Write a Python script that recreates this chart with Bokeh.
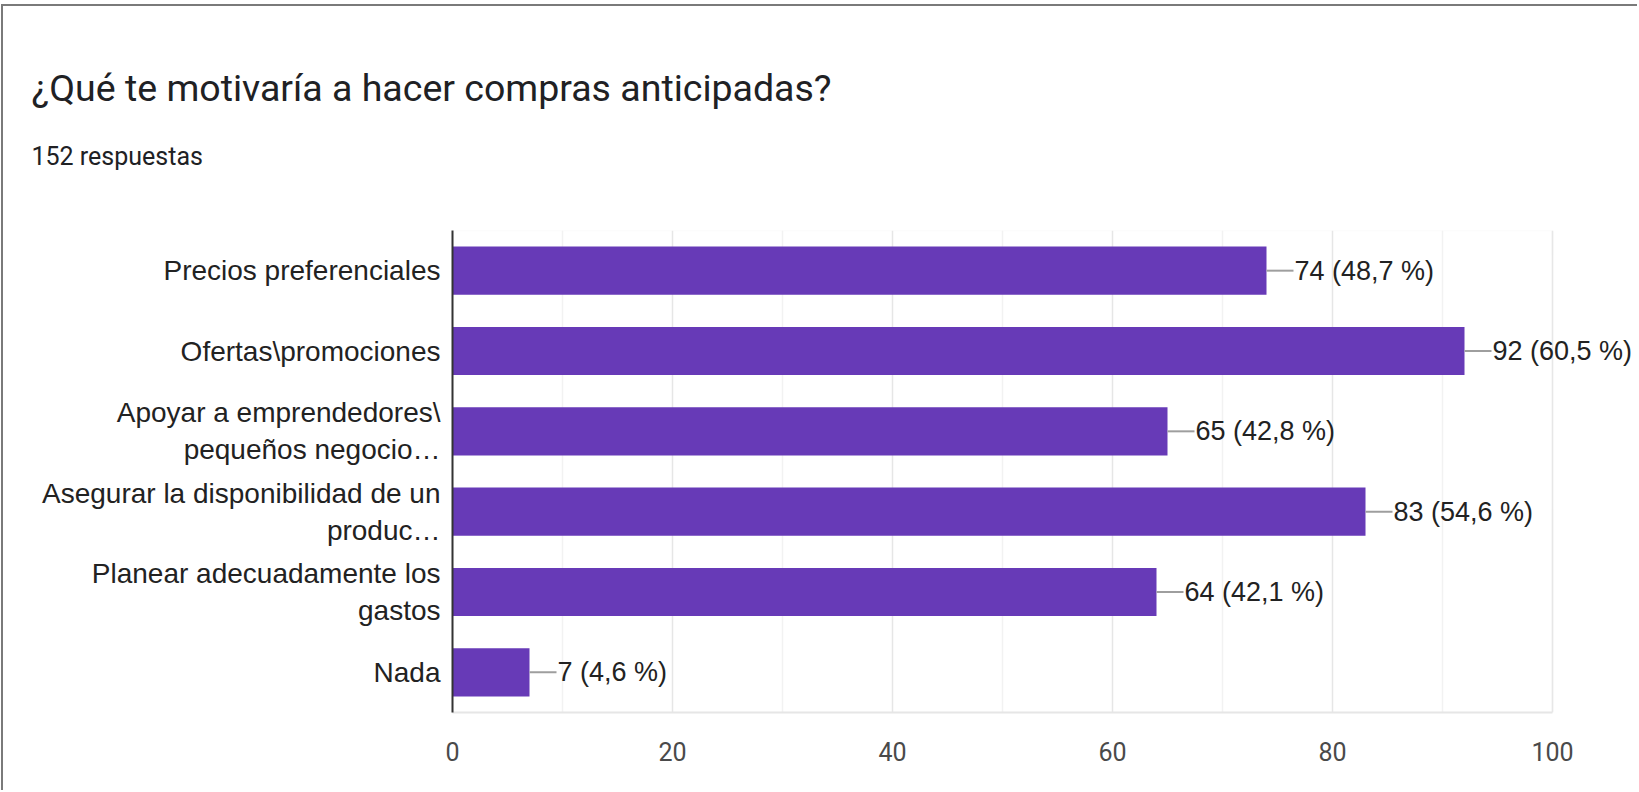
from bokeh.plotting import figure
from bokeh.models import Title, Range1d, FactorRange, ColumnDataSource, FixedTicker, LabelSet, BoxAnnotation
from bokeh.embed import file_html
from bokeh.resources import INLINE
from bokeh.core.properties import value

# ---- data ----
categories = [
    "Precios preferenciales",
    "Ofertas\\promociones",
    "Apoyar a emprendedores\\\npequeños negocio…",
    "Asegurar la disponibilidad de un\nproduc…",
    "Planear adecuadamente los\ngastos",
    "Nada",
]
counts = [74, 92, 65, 83, 64, 7]
percents = ["48,7", "60,5", "42,8", "54,6", "42,1", "4,6"]
x_ticks = [0, 20, 40, 60, 80, 100]
x_minor = [10, 30, 50, 70, 90]
title_text = "¿Qué te motivaría a hacer compras anticipadas?"
subtitle_text = "152 respuestas"

# ---- layout constants ----
W, H = 1636, 786
FL, FT, FB = 449, 224, 80
axis_max = 100
px_per_unit = 11.0                      # 0..100 spans 1100 px
x_end = (W - FL) / px_per_unit          # frame runs to the right edge so labels are not clipped
connector_units = 27 / px_per_unit

labels = [f"{c} ({p} %)" for c, p in zip(counts, percents)]
src = ColumnDataSource(dict(
    cat=categories,
    count=counts,
    end=[c + connector_units for c in counts],
    label=labels,
))

p = figure(
    width=W, height=H,
    y_range=FactorRange(factors=list(reversed(categories)), range_padding=0),
    x_range=Range1d(0, x_end),
    output_backend="svg", toolbar_location=None, title=None,
    min_border_left=FL, min_border_right=0, min_border_top=FT, min_border_bottom=FB,
    styles={"border-top": "2px solid #7a7a7a", "border-left": "2px solid #7a7a7a",
            "margin-top": "4px", "margin-left": "1px"},
)
p.background_fill_color = "white"
p.border_fill_color = "white"
p.outline_line_color = None

# light frame around the 0..100 plotting area
p.add_layout(BoxAnnotation(left=0, right=axis_max, fill_alpha=0, line_color="#ebebeb",
                           line_width=1.5, level="underlay"))

p.hbar(y="cat", right="count", left=0, height=0.6, source=src,
       fill_color="#673AB7", line_color=None)
p.segment(x0="count", y0="cat", x1="end", y1="cat", source=src,
          line_color="#9e9e9e", line_width=2)
p.add_layout(LabelSet(x="end", y="cat", text="label", source=src,
                      x_offset=1, text_baseline="middle", text_align="left",
                      text_font=value("Liberation Sans"), text_font_size=value("27px"),
                      text_color="#222222"))

# axes
p.xaxis.ticker = FixedTicker(ticks=x_ticks, minor_ticks=x_minor)
p.xaxis.bounds = (0, axis_max)
p.xaxis.major_label_text_font = "Roboto"
p.xaxis.major_label_text_font_size = "25px"
p.xaxis.major_label_text_color = "#4a4a4a"
p.xaxis.major_label_standoff = 23
p.xaxis.axis_line_color = "#e6e6e6"
p.xaxis.axis_line_width = 2
p.xaxis.major_tick_line_color = None
p.xaxis.minor_tick_line_color = None

p.yaxis.major_label_text_font = "Liberation Sans"
p.yaxis.major_label_text_font_size = "28px"
p.yaxis.major_label_text_color = "#222222"
p.yaxis.major_label_standoff = 6
p.yaxis.axis_line_color = "#333333"
p.yaxis.axis_line_width = 2
p.yaxis.major_tick_line_color = None
p.yaxis.minor_tick_line_color = None

p.xgrid.grid_line_color = "#e6e6e6"
p.xgrid.grid_line_width = 1.5
p.xgrid.minor_grid_line_color = "#f2f2f2"
p.xgrid.minor_grid_line_width = 1.5
p.ygrid.grid_line_color = None

# titles, stacked outward from the plot: spacer, subtitle, title
p.add_layout(Title(text=" ", text_font_size="1px", standoff=55), "above")
p.add_layout(Title(text=subtitle_text, align="left", offset=-(FL - 28),
                   text_font="Roboto", text_font_size="25px", text_font_style="normal",
                   text_color="#202124", standoff=4), "above")
p.add_layout(Title(text=title_text, align="left", offset=-(FL - 28),
                   text_font="Roboto", text_font_size="37.5px", text_font_style="normal",
                   text_color="#202124", standoff=56), "above")

open("out.html", "w").write(file_html(p, INLINE))
